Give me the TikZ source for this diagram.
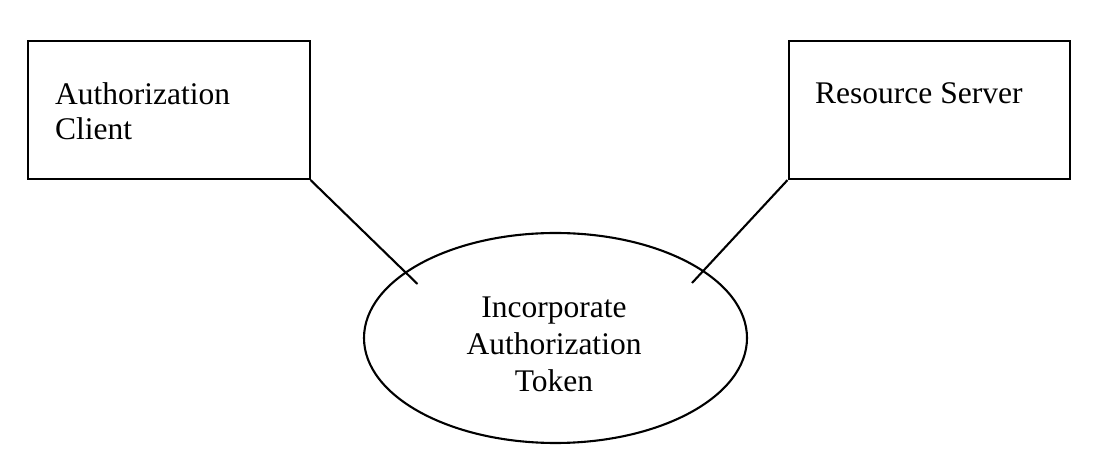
\documentclass[tikz,border=0pt]{standalone}
\usepackage{fontspec}
\setmainfont{Liberation Serif}
\usetikzlibrary{shapes.geometric}
\begin{document}
\begin{tikzpicture}[x=1pt,y=1pt,
  box/.style={draw,line width=2.1pt,rectangle,inner sep=0pt,minimum width=281.5pt,minimum height=138pt,anchor=north west},
  oval/.style={draw,line width=2.1pt,ellipse,inner sep=0pt,minimum width=383pt,minimum height=210pt},
  txt/.style={inner sep=0pt,font=\fontsize{31.5}{36}\selectfont},
  conn/.style={line width=2.1pt}]
\useasboundingbox (0,0) rectangle (1102,468);
\fill[white] (0,0) rectangle (1102,468);
\node[box] (client) at (27,428) {};
\node[box] (server) at (787.5,428) {};
\node[oval] (token) at (555.5,130) {};
\node[txt,anchor=base west] (c1) at (55,363) {Authorization};
\node[txt,anchor=base west] (c2) at (55,328) {Client};
\node[txt,anchor=base west] (s1) at (815,364) {Resource Server};
\node[txt,anchor=base] (t1) at (554,150) {Incorporate};
\node[txt,anchor=base] (t2) at (554,113) {Authorization};
\node[txt,anchor=base] (t3) at (554,76) {Token};
\coordinate (e1) at (417.5,184);
\coordinate (e2) at (692,185);
\draw[conn] (client.south east) -- (e1);
\draw[conn] (server.south west) -- (e2);
\end{tikzpicture}
\end{document}
